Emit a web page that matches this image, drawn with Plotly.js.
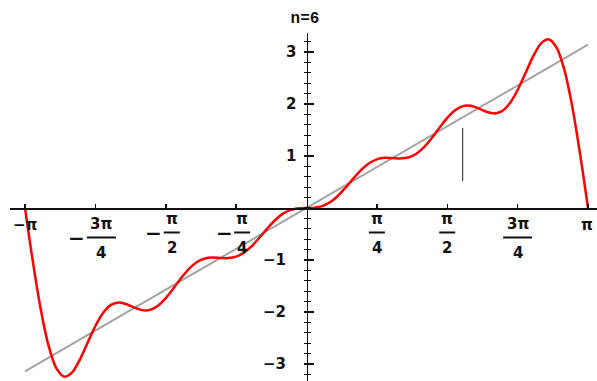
<!DOCTYPE html>
<html>
<head>
<meta charset="utf-8">
<script src="https://cdn.plot.ly/plotly-3.0.1.min.js"></script>
<style>html,body{margin:0;padding:0;background:#fff;}#chart{width:597px;height:381px;}</style>
</head>
<body>
<div id="chart"></div>
<script>
// Partial Fourier sum (n=6) of f(x)=x, values every 5 degrees
const xValues = [-3.1416,-3.0543,-2.9671,-2.8798,-2.7925,-2.7053,-2.6180,-2.5307,-2.4435,-2.3562,-2.2689,-2.1817,-2.0944,-2.0071,-1.9199,-1.8326,-1.7453,-1.6581,-1.5708,-1.4835,-1.3963,-1.3090,-1.2217,-1.1345,-1.0472,-0.9599,-0.8727,-0.7854,-0.6981,-0.6109,-0.5236,-0.4363,-0.3491,-0.2618,-0.1745,-0.0873,
  0,0.0873,0.1745,0.2618,0.3491,0.4363,0.5236,0.6109,0.6981,0.7854,0.8727,0.9599,1.0472,1.1345,1.2217,1.3090,1.3963,1.4835,1.5708,1.6581,1.7453,1.8326,1.9199,2.0071,2.0944,2.1817,2.2689,2.3562,2.4435,2.5307,2.6180,2.7053,2.7925,2.8798,2.9671,3.0543,3.1416];
const seriesN6 = [0,-1.027,-1.939,-2.642,-3.079,-3.242,-3.166,-2.920,-2.593,-2.269,-2.015,-1.864,-1.819,-1.851,-1.916,-1.964,-1.959,-1.880,-1.733,-1.542,-1.340,-1.164,-1.038,-0.970,-0.953,-0.961,-0.964,-0.936,-0.859,-0.732,-0.568,-0.392,-0.231,-0.109,-0.035,-0.005,
  0,0.005,0.035,0.109,0.231,0.392,0.568,0.732,0.859,0.936,0.964,0.961,0.953,0.970,1.038,1.164,1.340,1.542,1.733,1.880,1.959,1.964,1.916,1.851,1.819,1.864,2.015,2.269,2.593,2.920,3.166,3.242,3.079,2.642,1.939,1.027,0];
// reference line y = x
const lineX = [-3.1416, 3.1416];
const lineY = [-3.1416, 3.1416];
// stray vertical stroke in the picture
const strokeX = [1.743, 1.743];
const strokeY = [0.52, 1.54];

// tick labels
const yTickVals = [-3,-2,-1,1,2,3];
const yTickText = ['−3\u00a0\u00a0','−2\u00a0\u00a0','−1\u00a0\u00a0','1','2','3'];
const xTickMult = [-4,-3,-2,-1,1,2,3,4];          // multiples of pi/4
const fracMult = [-3,-2,-1,1,2,3];
const fracNum = ['3π','π','π','π','π','3π'];
const fracDen = ['4','2','4','4','2','4'];
const endMult = [-4,4];
const endText = ['−π','π'];

const FONT = 'DejaVu Sans, sans-serif';
const FS = 15;
const annotations = [];
const shapes = [];
fracMult.forEach((m,i)=>{
  const x = m*Math.PI/4;
  const neg = m<0;
  const wide = fracNum[i].length>1;
  const barW = wide?29:16;
  const dy = wide?5:0;
  const cx = neg?6:0;
  annotations.push({x:x,y:0,xref:'x',yref:'y',text:'<b>'+fracNum[i]+'</b>',showarrow:false,xanchor:'center',yanchor:'middle',xshift:cx,yshift:-(11+dy),font:{family:FONT,size:FS,color:'#111'}});
  annotations.push({x:x,y:0,xref:'x',yref:'y',text:'<b>'+fracDen[i]+'</b>',showarrow:false,xanchor:'center',yanchor:'middle',xshift:cx,yshift:-(40+dy),font:{family:FONT,size:FS,color:'#111'}});
  shapes.push({type:'line',xref:'x',yref:'y',xsizemode:'pixel',xanchor:x,x0:cx-barW/2,x1:cx+barW/2,ysizemode:'pixel',yanchor:0,y0:-(24.5+dy),y1:-(24.5+dy),line:{color:'#111',width:2}});
  if(neg){
    annotations.push({x:x,y:0,xref:'x',yref:'y',text:'<b>−</b>',showarrow:false,xanchor:'center',yanchor:'middle',xshift:cx-barW/2-10,yshift:-(24.5+dy)-1,font:{family:FONT,size:20,color:'#111'}});
  }
});
endMult.forEach((m,i)=>{
  annotations.push({x:m*Math.PI/4,y:0,xref:'x',yref:'y',text:'<b>'+endText[i]+'</b>',showarrow:false,xanchor:'center',yanchor:'middle',xshift:m<0?0:-1,yshift:-17,font:{family:FONT,size:FS,color:'#111'}});
});

const traces = [
  {x:lineX,y:lineY,mode:'lines',line:{color:'#a3a3a3',width:2},hoverinfo:'skip'},
  {x:xValues,y:seriesN6,mode:'lines',line:{color:'#ff0000',width:2.5,shape:'spline',smoothing:0.8},hoverinfo:'skip'},
  {x:strokeX,y:strokeY,yaxis:'y2',mode:'lines',line:{color:'#222',width:1},hoverinfo:'skip'}
];

const W=597,H=381;
const yRange=[-3.327,3.365];
const layout = {
  width:W,height:H,
  margin:{l:0,r:0,t:0,b:0},
  paper_bgcolor:'#fff',plot_bgcolor:'#fff',
  showlegend:false,
  title:{text:'<b>n=6</b>',x:305/W,xanchor:'center',y:1-17/H,yanchor:'middle',font:{family:'Liberation Mono, monospace',size:16,color:'#111'}},
  xaxis:{domain:[10/W,1],range:[-3.309,3.242],anchor:'free',position:(H-208)/H,
    showline:true,linecolor:'#111',linewidth:1.5,zeroline:false,showgrid:false,
    tickmode:'array',tickvals:xTickMult.map(m=>m*Math.PI/4),ticks:'inside',ticklen:4,tickwidth:1.5,tickcolor:'#111',
    showticklabels:false},
  yaxis:{domain:[0,(H-33)/H],range:yRange,anchor:'free',position:306.5/W,
    showline:true,linecolor:'#111',linewidth:1.5,zeroline:false,showgrid:false,
    tickmode:'array',tickvals:yTickVals,ticktext:yTickText.map(t=>'<b>'+t+'</b>'),
    ticks:'inside',ticklen:6,tickwidth:1.5,tickcolor:'#111',ticklabelstandoff:7,
    tickfont:{family:FONT,size:FS,color:'#111'},
    minor:{tickmode:'linear',tick0:0,dtick:0.2,ticks:'inside',ticklen:3,tickwidth:1.2,tickcolor:'#111'}},
  yaxis2:{domain:[0,(H-33)/H],range:yRange,overlaying:'y',anchor:'free',position:306.5/W,
    showline:false,zeroline:false,showgrid:false,showticklabels:false,
    tickmode:'linear',tick0:0,dtick:1,ticks:'outside',ticklen:3,tickwidth:1.5,tickcolor:'#111',
    minor:{tickmode:'linear',tick0:0,dtick:0.2,ticks:'outside',ticklen:3,tickwidth:1.2,tickcolor:'#111'}},
  annotations:annotations,
  shapes:shapes
};
Plotly.newPlot('chart',traces,layout,{staticPlot:true,displayModeBar:false});
</script>
</body>
</html>
